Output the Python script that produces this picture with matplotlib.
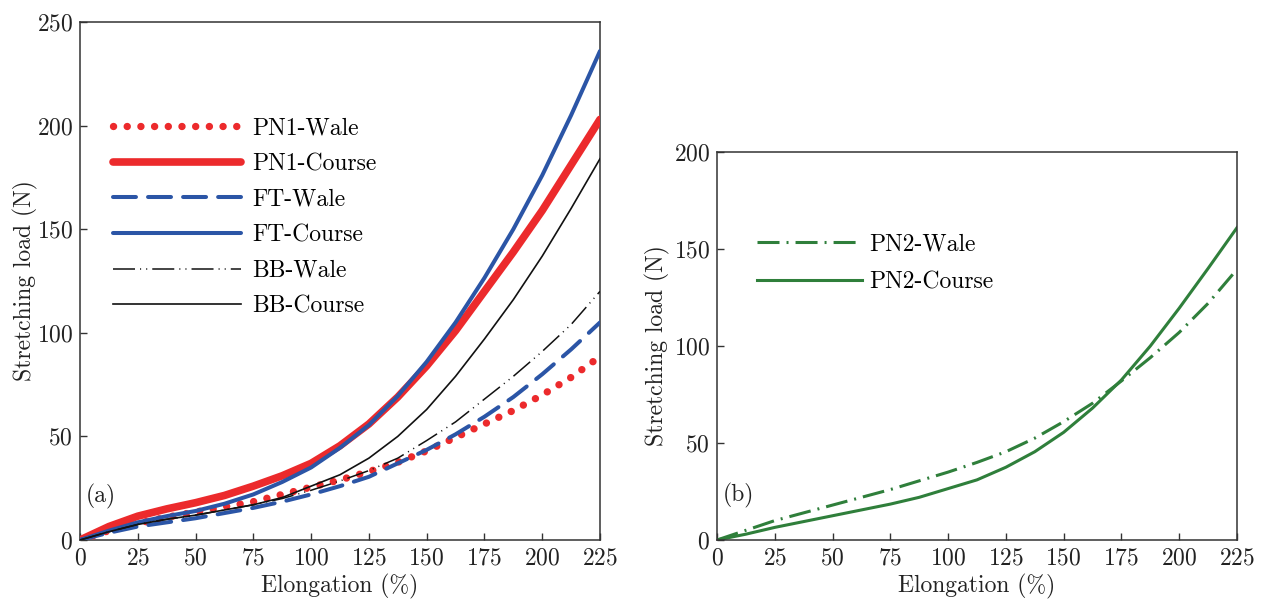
import matplotlib
matplotlib.use("Agg")
import matplotlib.pyplot as plt

plt.rcParams["font.family"] = ["cmr10", "DejaVu Serif"]
plt.rcParams["mathtext.fontset"] = "cm"
plt.rcParams["axes.unicode_minus"] = False
plt.rcParams["axes.formatter.use_mathtext"] = True

# Elongation (%) sample points
elong = [0, 12.5, 25, 37.5, 50, 62.5, 75, 87.5, 100, 112.5, 125,
         137.5, 150, 162.5, 175, 187.5, 200, 212.5, 225]

# Panel (a): stretching load (N)
pn1_wale = [0, 4.5, 8, 11, 13.5, 16, 18.5, 22, 25.5, 29, 33,
            37.5, 43, 49.5, 56, 62.5, 70, 78.5, 88.5]
pn1_course = [0, 6.5, 11.5, 15, 18, 21.5, 26, 31, 37, 45.5, 56,
              69, 84, 101, 120, 139, 159, 181, 203]
ft_wale = [0, 3.5, 6.5, 8.5, 10.5, 13, 15.5, 18.5, 22, 26, 30.5,
           37, 43.5, 51, 59.5, 69, 80, 92, 105]
ft_course = [0, 4.5, 8.5, 11.5, 14, 17.5, 22, 28, 35, 44.5, 55.5,
             69.5, 86, 105, 126.5, 150, 176, 205, 236]
bb_wale = [0, 4, 7.5, 10, 12, 14.5, 17, 20, 24, 28.5, 33.5,
           39.5, 48, 57, 68, 79, 91, 104, 120]
bb_course = [0, 4, 7.5, 10, 12, 14.5, 17, 20.5, 26, 31.5, 39.5,
             50, 63, 79, 97, 116, 137, 160, 184]

# Panel (b): stretching load (N)
pn2_wale = [0, 5, 10, 14, 18, 22, 26, 30.5, 35, 40, 45.5,
            52.5, 61, 70.5, 82, 94, 107, 122, 139.5]
pn2_course = [0, 3, 6.5, 9.5, 12.5, 15.5, 18.5, 22, 26.5, 31, 37.5,
              45.5, 55.5, 68, 82.5, 100, 119.5, 140, 161]

x_ticks = [0, 25, 50, 75, 100, 125, 150, 175, 200, 225]
y_ticks_a = [0, 50, 100, 150, 200, 250]
y_ticks_b = [0, 50, 100, 150, 200]

RED = "#EC2A2C"
BLUE = "#2B55A6"
GREEN = "#2F7F3B"
FS = 17

fig = plt.figure(figsize=(12.61, 6.0), dpi=100)
ax1 = fig.add_axes([80 / 1261, 60 / 600, 520 / 1261, 518 / 600])
ax2 = fig.add_axes([717 / 1261, 60 / 600, 520 / 1261, 388 / 600])

# ---- panel (a)
ax1.plot(elong, pn1_wale, color=RED, lw=5.3, linestyle=(0, (0.01, 1.85)),
         dash_capstyle="round", label="PN1-Wale", zorder=3)
ax1.plot(elong, pn1_course, color=RED, lw=5.5, solid_capstyle="round",
         solid_joinstyle="round", label="PN1-Course", zorder=3)
ax1.plot(elong, ft_wale, color=BLUE, lw=2.9, linestyle=(0, (5.7, 3.0)),
         dash_capstyle="round", label="FT-Wale", zorder=4)
ax1.plot(elong, ft_course, color=BLUE, lw=2.9, solid_capstyle="round",
         solid_joinstyle="round", label="FT-Course", zorder=4)
ax1.plot(elong, bb_wale, color="#111111", lw=1.1,
         linestyle=(0, (14.4, 3.3, 0.7, 3.3, 0.7, 3.3)),
         label="BB-Wale", zorder=5)
ax1.plot(elong, bb_course, color="#111111", lw=1.2,
         label="BB-Course", zorder=5)

ax1.set_xlim(0, 225)
ax1.set_ylim(0, 250)
ax1.set_yticks(y_ticks_a)
ax1.text(2.6, 21, "(a)", fontsize=FS, ha="left", va="center", color="#222222")
ax1.legend(loc="upper left", bbox_to_anchor=(0.0635, 0.816), frameon=False,
           fontsize=FS, handlelength=5.4, handletextpad=0.5,
           labelspacing=0.57, borderpad=0, borderaxespad=0)

# ---- panel (b)
ax2.plot(elong, pn2_wale, color=GREEN, lw=2.2,
         linestyle=(0, (7.2, 2.3, 0.65, 2.3)), label="PN2-Wale")
ax2.plot(elong, pn2_course, color=GREEN, lw=2.2, label="PN2-Course")
ax2.set_xlim(0, 225)
ax2.set_ylim(0, 200)
ax2.set_yticks(y_ticks_b)
ax2.text(2.6, 23, "(b)", fontsize=FS, ha="left", va="center", color="#222222")
ax2.legend(loc="upper left", bbox_to_anchor=(0.077, 0.79), frameon=False,
           fontsize=FS, handlelength=4.45, handletextpad=0.3,
           labelspacing=0.66, borderpad=0, borderaxespad=0)

for ax in (ax1, ax2):
    ax.set_xticks(x_ticks)
    ax.tick_params(direction="in", length=5, width=1.0, labelsize=FS,
                   colors="#333333", labelcolor="#222222", pad=5)
    for sp in ax.spines.values():
        sp.set_color("#333333")
        sp.set_linewidth(1.1)
    ax.set_xlabel("Elongation (%)", fontsize=FS, color="#222222", labelpad=3.5)

ax1.set_ylabel("Stretching load (N)", fontsize=FS, color="#222222", labelpad=-1)
ax2.set_ylabel("Stretching load (N)", fontsize=FS, color="#222222", labelpad=2.5)

fig.savefig("out.png", dpi=100)
